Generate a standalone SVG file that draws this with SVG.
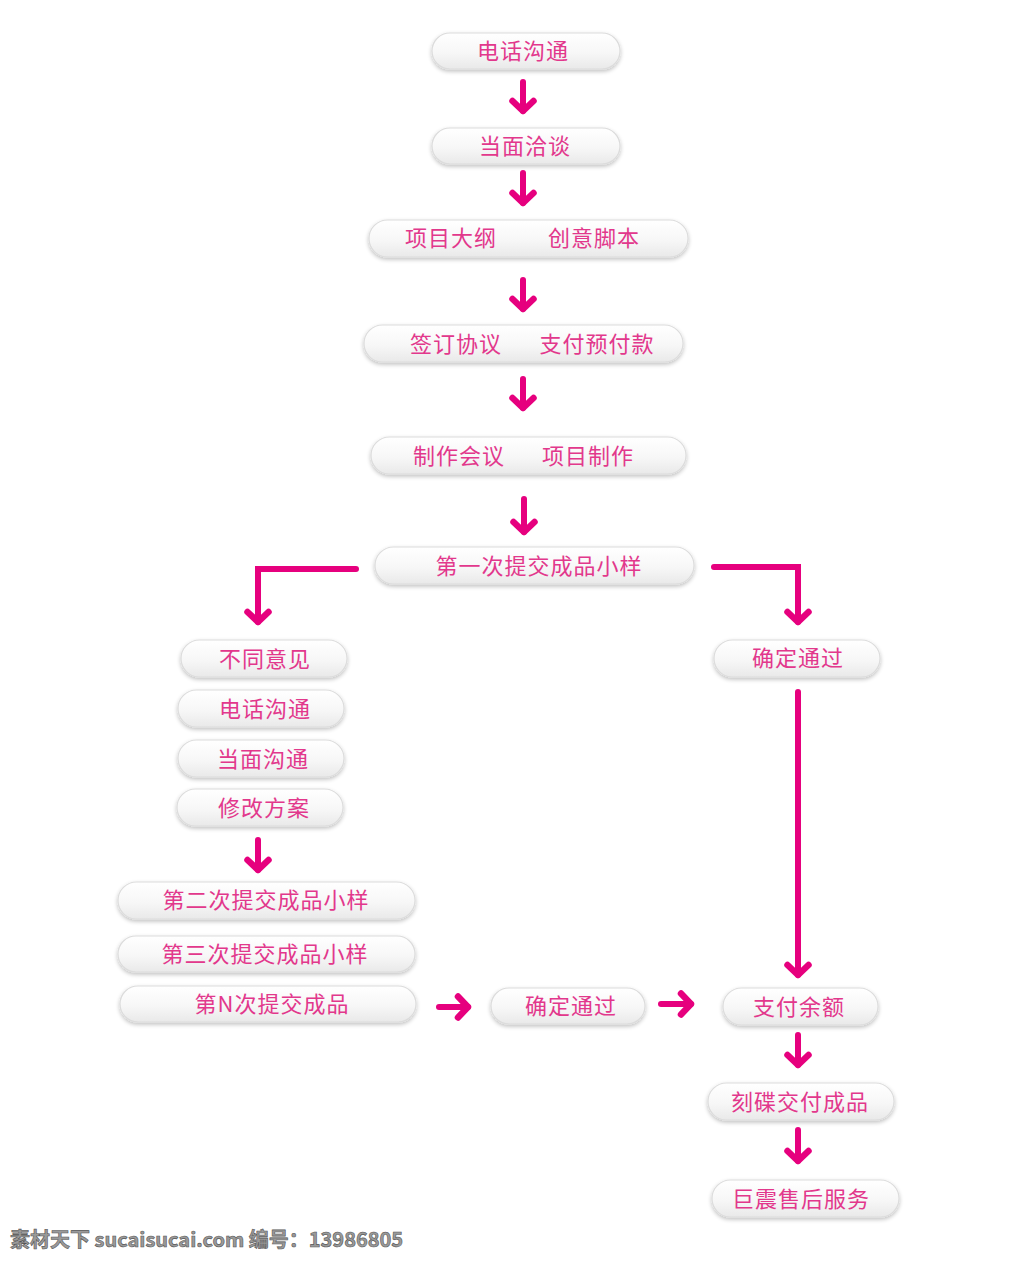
<svg xmlns="http://www.w3.org/2000/svg" width="1024" height="1264" viewBox="0 0 1024 1264">
<defs>
<linearGradient id="pg" x1="0" y1="0" x2="0" y2="1">
<stop offset="0" stop-color="#ffffff"/>
<stop offset="0.55" stop-color="#f7f7f7"/>
<stop offset="1" stop-color="#e9e9e9"/>
</linearGradient>
<filter id="sh" x="-10%" y="-30%" width="120%" height="170%">
<feGaussianBlur in="SourceAlpha" stdDeviation="2"/>
<feOffset dy="2"/>
<feComponentTransfer><feFuncA type="linear" slope="0.25"/></feComponentTransfer>
<feMerge><feMergeNode/><feMergeNode in="SourceGraphic"/></feMerge>
</filter>
<marker id="ah" markerUnits="userSpaceOnUse" viewBox="-14 -14 28 28" markerWidth="28" markerHeight="28" refX="0" refY="0" orient="auto">
<path d="M-10,-10.5 L0,0 L-10,10.5" fill="none" stroke="#e6007e" stroke-width="6.5" stroke-linecap="round" stroke-linejoin="round"/>
</marker>
</defs>
<style>
.pill{fill:url(#pg);stroke:#dcdcdc;stroke-width:1.2;filter:url(#sh)}
.t{font-family:"Noto Sans CJK SC","Noto Sans",sans-serif;font-size:22px;letter-spacing:1px;fill:#e2388c;text-anchor:middle;dominant-baseline:central}
.c{fill:none;stroke:#e6007e;stroke-width:6;stroke-linecap:round;stroke-linejoin:miter;marker-end:url(#ah)}
.wm{font-family:"Noto Sans CJK SC","DejaVu Sans",sans-serif;font-size:20px;font-weight:bold;fill:#9a9a9a;stroke:#555;stroke-width:0.6}
</style>

<g id="n1"><rect class="pill" x="432" y="33" width="188" height="36" rx="18"/><text class="t" x="523" y="49">电话沟通</text></g>
<g id="n2"><rect class="pill" x="432" y="128" width="188" height="36" rx="18"/><text class="t" x="525" y="144">当面洽谈</text></g>
<g id="n3"><rect class="pill" x="369" y="220" width="319" height="37" rx="18.5"/><text class="t" x="451" y="236">项目大纲</text><text class="t" x="594" y="236">创意脚本</text></g>
<g id="n4"><rect class="pill" x="364" y="325" width="319" height="37" rx="18.5"/><text class="t" x="456" y="342">签订协议</text><text class="t" x="597" y="342">支付预付款</text></g>
<g id="n5"><rect class="pill" x="371" y="437" width="315" height="37" rx="18.5"/><text class="t" x="459" y="454">制作会议</text><text class="t" x="588" y="454">项目制作</text></g>
<g id="n6"><rect class="pill" x="375" y="547" width="319" height="37" rx="18.5"/><text class="t" x="539" y="564">第一次提交成品小样</text></g>
<g id="n7"><rect class="pill" x="181" y="640" width="166" height="37" rx="18.5"/><text class="t" x="265" y="657">不同意见</text></g>
<g id="n8"><rect class="pill" x="178" y="690" width="166" height="37" rx="18.5"/><text class="t" x="265" y="707">电话沟通</text></g>
<g id="n9"><rect class="pill" x="178" y="740" width="166" height="37" rx="18.5"/><text class="t" x="263" y="757">当面沟通</text></g>
<g id="n10"><rect class="pill" x="177" y="789" width="166" height="37" rx="18.5"/><text class="t" x="264" y="806">修改方案</text></g>
<g id="n11"><rect class="pill" x="118" y="882" width="297" height="37" rx="18.5"/><text class="t" x="266" y="898">第二次提交成品小样</text></g>
<g id="n12"><rect class="pill" x="118" y="936" width="297" height="36" rx="18"/><text class="t" x="265" y="952">第三次提交成品小样</text></g>
<g id="n13"><rect class="pill" x="120" y="986" width="296" height="36" rx="18"/><text class="t" x="272" y="1002">第N次提交成品</text></g>
<g id="n14"><rect class="pill" x="491" y="988" width="154" height="36" rx="18"/><text class="t" x="571" y="1004">确定通过</text></g>
<g id="n15"><rect class="pill" x="723" y="988" width="155" height="37" rx="18.5"/><text class="t" x="799" y="1005">支付余额</text></g>
<g id="n16"><rect class="pill" x="708" y="1083" width="186" height="37" rx="18.5"/><text class="t" x="800" y="1100">刻碟交付成品</text></g>
<g id="n17"><rect class="pill" x="712" y="1180" width="187" height="37" rx="18.5"/><text class="t" x="801" y="1197">巨震售后服务</text></g>
<g id="n18"><rect class="pill" x="714" y="640" width="166" height="37" rx="18.5"/><text class="t" x="798" y="656">确定通过</text></g>

<g id="connectors">
<path class="c" d="M523,82 L523,111"/>
<path class="c" d="M523,173 L523,203"/>
<path class="c" d="M523,280 L523,309"/>
<path class="c" d="M523,379 L523,408"/>
<path class="c" d="M524,499 L524,532"/>
<path class="c" d="M356,569 L258,569 L258,622"/>
<path class="c" d="M714,567 L798,567 L798,622"/>
<path class="c" d="M258,840 L258,870"/>
<path class="c" d="M798,692 L798,975"/>
<path class="c" d="M439,1007 L468,1007"/>
<path class="c" d="M661,1004 L691,1004"/>
<path class="c" d="M798,1035 L798,1065"/>
<path class="c" d="M798,1130 L798,1161"/>
</g>

<text class="wm" x="10" y="1247">素材天下 sucaisucai.com  编号：13986805</text>
</svg>
